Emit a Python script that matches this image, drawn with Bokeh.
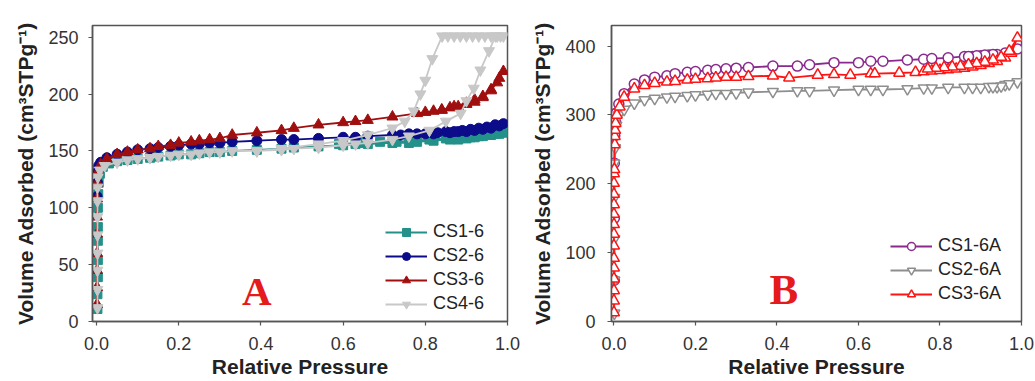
from bokeh.plotting import figure
from bokeh.layouts import row
from bokeh.models import Legend, LegendItem, Label, FixedTicker, PrintfTickFormatter, Range1d
from bokeh.embed import file_html
from bokeh.resources import INLINE

# ---------------- Panel A data ----------------
cs1_6_x = [0.002, 0.002, 0.003, 0.003, 0.003, 0.003, 0.003, 0.004, 0.005, 0.008, 0.015, 0.03, 0.05, 0.075,
           0.1, 0.13, 0.15, 0.18, 0.2, 0.23, 0.25, 0.275, 0.3, 0.33, 0.39, 0.45, 0.48, 0.54, 0.6, 0.63,
           0.66, 0.72, 0.76, 0.78, 0.82, 0.86, 0.88, 0.9, 0.92, 0.94, 0.96, 0.98, 0.99,
           0.97, 0.95, 0.93, 0.91, 0.89, 0.87, 0.85, 0.81, 0.77, 0.73, 0.69, 0.64, 0.59]
cs1_6_y = [11, 24, 39, 54, 71, 83, 100, 112, 122, 130, 136, 139, 141, 142,
           143, 144, 145, 146, 147, 147, 148, 149, 149, 150, 151, 152, 153, 154, 155, 156,
           156, 157, 157, 158, 159, 160, 160, 161, 162, 163, 164, 165, 166,
           165, 164, 163, 162, 162, 161, 161, 160, 159, 158, 158, 157, 156]

cs2_6_x = [0.001, 0.002, 0.003, 0.005, 0.01, 0.025, 0.05, 0.075, 0.1, 0.13, 0.15, 0.18, 0.2, 0.23,
           0.25, 0.275, 0.3, 0.33, 0.39, 0.45, 0.48, 0.54, 0.6, 0.63, 0.66, 0.72, 0.74, 0.78, 0.82,
           0.86, 0.88, 0.9, 0.92, 0.94, 0.96, 0.98, 0.99,
           0.97, 0.95, 0.93, 0.91, 0.89, 0.87, 0.85, 0.83, 0.8, 0.76]
cs2_6_y = [110, 122, 132, 137, 140, 144, 147, 149, 151, 152, 153, 154, 155, 156,
           156, 157, 157, 158, 159, 160, 160, 161, 162, 162, 163, 164, 164, 165, 165,
           166, 167, 167, 168, 169, 170, 172, 174,
           173, 171, 170, 169, 168, 167, 167, 166, 165, 165]

cs3_6_x = [0.001, 0.001, 0.001, 0.001, 0.001, 0.001, 0.001, 0.002, 0.004, 0.01, 0.025, 0.05, 0.075,
           0.1, 0.13, 0.15, 0.18, 0.2, 0.23, 0.25, 0.275, 0.3, 0.33, 0.39, 0.45, 0.48, 0.54, 0.6,
           0.63, 0.66, 0.72, 0.78, 0.8, 0.82, 0.84, 0.86, 0.88, 0.9, 0.92, 0.94, 0.96, 0.975, 0.99,
           0.98, 0.96, 0.94, 0.92, 0.9, 0.87, 0.84]
cs3_6_y = [15, 30, 45, 60, 77, 92, 108, 122, 132, 138, 143, 147, 149,
           151, 152, 154, 155, 157, 158, 159, 160, 161, 164, 166, 168, 170, 173, 175,
           176, 177, 180, 183, 184, 185, 186, 188, 189, 191, 193, 197, 204, 210, 220,
           214, 203, 198, 195, 192, 189, 186]

cs4_6_x = [0.002, 0.002, 0.002, 0.002, 0.002, 0.002, 0.002, 0.002, 0.003, 0.008, 0.02, 0.05, 0.075,
           0.1, 0.13, 0.15, 0.18, 0.2, 0.23, 0.25, 0.275, 0.3, 0.33, 0.39, 0.45, 0.48, 0.54, 0.6,
           0.63, 0.66, 0.72, 0.76, 0.81, 0.85, 0.886, 0.9, 0.918, 0.934, 0.955, 0.971, 0.983, 0.99,
           0.975, 0.96, 0.945, 0.93, 0.915, 0.9, 0.885, 0.87, 0.855, 0.841, 0.817, 0.8, 0.788,
           0.772, 0.75, 0.72, 0.66, 0.6, 0.54, 0.45, 0.39]
cs4_6_y = [12, 28, 45, 60, 76, 92, 106, 118, 127, 133, 137, 140, 142,
           143, 144, 145, 146, 147, 147, 148, 149, 149, 150, 150, 151, 152, 153, 155,
           156, 157, 160, 163, 168, 176, 183, 194, 205, 221, 238, 251, 251, 251,
           251, 251, 251, 251, 251, 251, 251, 251, 251, 251, 231, 212, 200,
           185, 176, 170, 164, 159, 156, 152, 150]

# ---------------- Panel B data ----------------
cs1_6a_x = [0.001, 0.001, 0.001, 0.002, 0.004, 0.006, 0.012, 0.025, 0.05, 0.075, 0.1, 0.13, 0.15,
            0.18, 0.2, 0.23, 0.25, 0.275, 0.3, 0.33, 0.39, 0.45, 0.48, 0.54, 0.6, 0.63, 0.66, 0.72,
            0.76, 0.78, 0.82, 0.86, 0.88, 0.9, 0.92, 0.94, 0.99,
            0.96, 0.93, 0.91, 0.89, 0.87]
cs1_6a_y = [60, 150, 230, 270, 290, 303, 316, 331, 345, 351, 355, 357, 360,
            362, 363, 365, 366, 367, 368, 369, 371, 371, 373, 376, 376, 378, 378, 380,
            381, 382, 383, 385, 385, 386, 387, 388, 396,
            390, 388, 387, 386, 385]

cs2_6a_x = [0.001, 0.001, 0.001, 0.001, 0.001, 0.003, 0.006, 0.012, 0.025, 0.05, 0.075, 0.1, 0.13,
            0.15, 0.18, 0.2, 0.23, 0.25, 0.275, 0.3, 0.33, 0.39, 0.45, 0.48, 0.54, 0.6, 0.63, 0.66,
            0.72, 0.76, 0.78, 0.82, 0.86, 0.88, 0.9, 0.92, 0.94, 0.96, 0.99,
            0.97, 0.95, 0.93]
cs2_6a_y = [12, 60, 120, 180, 230, 252, 285, 300, 308, 317, 322, 324, 326,
            327, 328, 329, 330, 331, 331, 332, 333, 334, 335, 335, 336, 337, 337, 337,
            338, 339, 339, 340, 340, 340, 340, 341, 341, 344, 348,
            345, 342, 341]

cs3_6a_x = [0.0, 0.0, 0.0, 0.0, 0.0, 0.0, 0.0, 0.0, 0.0, 0.0, 0.0, 0.0, 0.0, 0.0, 0.001, 0.002,
            0.002, 0.003, 0.004, 0.007, 0.014, 0.025, 0.05, 0.075, 0.1, 0.13, 0.15, 0.18, 0.2,
            0.23, 0.25, 0.275, 0.3, 0.33, 0.39, 0.43, 0.5, 0.54, 0.58, 0.63, 0.64, 0.7, 0.74,
            0.76, 0.78, 0.8, 0.82, 0.84, 0.86, 0.88, 0.9, 0.92, 0.94, 0.96, 0.975, 0.99,
            0.97, 0.95, 0.93, 0.91, 0.89, 0.87, 0.85, 0.83, 0.81, 0.79, 0.77]
cs3_6a_y = [13, 30, 45, 62, 78, 92, 110, 127, 141, 156, 170, 185, 201, 215, 221, 257,
            269, 278, 288, 300, 312, 326, 338, 343, 346, 348, 349, 351, 352,
            353, 354, 355, 355, 356, 357, 354, 358, 359, 358, 360, 360, 361, 362,
            363, 364, 365, 366, 367, 368, 370, 372, 375, 378, 383, 390, 412,
            393, 384, 380, 377, 375, 373, 371, 370, 369, 368, 367]

x_ticks = [0.0, 0.2, 0.4, 0.6, 0.8, 1.0]
a_y_ticks = [0, 50, 100, 150, 200, 250]
b_y_ticks = [0, 100, 200, 300, 400]

FONT = "Liberation Sans"
AX = "#555555"


def make_fig(width, border, xr, yr, yticks, ylab_standoff, ytick_standoff):
    left, right, top, bottom = border
    p = figure(width=width, height=381, output_backend="svg", toolbar_location=None,
               x_range=Range1d(*xr), y_range=Range1d(*yr),
               min_border_left=left, min_border_right=right,
               min_border_top=top, min_border_bottom=bottom)
    p.xgrid.visible = False
    p.ygrid.visible = False
    p.outline_line_color = AX
    p.outline_line_width = 1.5
    p.background_fill_color = "white"
    p.border_fill_color = "white"
    p.xaxis.ticker = FixedTicker(ticks=x_ticks)
    p.xaxis.formatter = PrintfTickFormatter(format="%.1f")
    p.yaxis.ticker = FixedTicker(ticks=yticks)
    p.xaxis.axis_label = "Relative Pressure"
    p.yaxis.axis_label = "Volume Adsorbed (cm³STPg⁻¹)"
    for ax in p.axis:
        ax.axis_line_color = AX
        ax.axis_line_width = 1.5
        ax.major_tick_line_color = AX
        ax.major_tick_line_width = 1.2
        ax.major_tick_out = 4
        ax.major_tick_in = 0
        ax.minor_tick_out = 0
        ax.minor_tick_in = 0
        ax.major_label_text_font = FONT
        ax.major_label_text_font_size = "18px"
        ax.major_label_text_color = "#333333"
        ax.axis_label_text_font = FONT
        ax.axis_label_text_font_style = "bold"
        ax.axis_label_text_font_size = "21px"
        ax.axis_label_text_color = "#222222"
    p.xaxis.major_label_standoff = 11
    p.xaxis.axis_label_standoff = 2
    p.yaxis.major_label_standoff = ytick_standoff
    p.yaxis.axis_label_standoff = ylab_standoff
    return p


def add_series(p, xs, ys, color, marker, size, fill, lw=1.8):
    l = p.line(xs, ys, line_color=color, line_width=lw)
    s = p.scatter(xs, ys, marker=marker, size=size, line_color=color,
                  fill_color=fill, line_width=1.5 if fill == "white" else 1)
    return [l, s]


def make_legend(items, loc):
    lg = Legend(items=items, location=loc, glyph_width=42, glyph_height=20, label_height=20,
                spacing=3, padding=0, margin=0, border_line_alpha=0, background_fill_alpha=0,
                label_text_font=FONT, label_text_font_size="18px", label_text_color="#222222",
                label_standoff=6)
    return lg


# Panel A
pa = make_fig(520, (92, 13, 25, 60), (-0.01, 1.0), (0, 260.3), a_y_ticks, 8, 10)
r1 = add_series(pa, cs1_6_x, cs1_6_y, "#23918A", "square", 9, "#23918A")
r2 = add_series(pa, cs2_6_x, cs2_6_y, "#0C0C8A", "circle", 10, "#0C0C8A")
r3 = add_series(pa, cs3_6_x, cs3_6_y, "#A00F0F", "triangle", 11, "#A00F0F")
r4 = add_series(pa, cs4_6_x, cs4_6_y, "#C8C8C8", "inverted_triangle", 11, "#C8C8C8")
pa.add_layout(make_legend([LegendItem(label="CS1-6", renderers=r1),
                           LegendItem(label="CS2-6", renderers=r2),
                           LegendItem(label="CS3-6", renderers=r3),
                           LegendItem(label="CS4-6", renderers=r4)], (293, 7)))
pa.add_layout(Label(x=0.39, y=27, text="A", text_font="Liberation Serif", text_font_style="bold",
                    text_font_size="41px", text_color="#E41A1C", text_align="center",
                    text_baseline="alphabetic"))

# Panel B
pb = make_fig(515, (91, 14, 23, 60), (-0.006, 1.0), (0, 430), b_y_ticks, 8, 12)
q1 = add_series(pb, cs1_6a_x, cs1_6a_y, "#8B2A8E", "circle", 10, "white")
q2 = add_series(pb, cs2_6a_x, cs2_6a_y, "#8E8E8E", "inverted_triangle", 11, "white")
q3 = add_series(pb, cs3_6a_x, cs3_6a_y, "#FF1414", "triangle", 11, "white")
pb.add_layout(make_legend([LegendItem(label="CS1-6A", renderers=q1),
                           LegendItem(label="CS2-6A", renderers=q2),
                           LegendItem(label="CS3-6A", renderers=q3)], (279, 17)))
pb.add_layout(Label(x=0.417, y=47, text="B", text_font="Liberation Serif", text_font_style="bold",
                    text_font_size="43px", text_color="#E41A1C", text_align="center",
                    text_baseline="alphabetic"))

layout = row(pa, pb)
open("out.html", "w").write(file_html(layout, INLINE))
